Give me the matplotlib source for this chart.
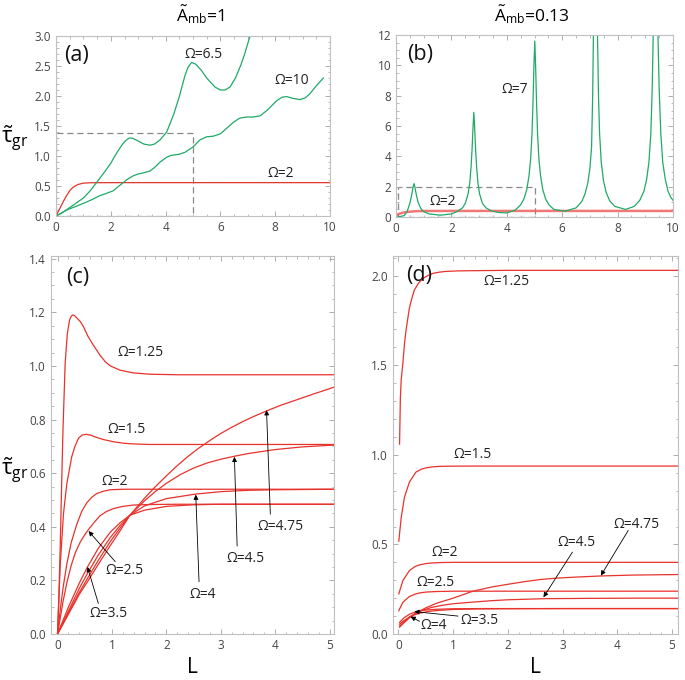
import matplotlib
matplotlib.use("Agg")
import matplotlib.pyplot as plt
from matplotlib.ticker import MultipleLocator, AutoMinorLocator, FormatStrFormatter
from matplotlib.patches import Rectangle

plt.rcParams['font.family'] = ['Open Sans', 'DejaVu Sans']
plt.rcParams['mathtext.fontset'] = 'custom'
plt.rcParams['mathtext.rm'] = 'Open Sans'
plt.rcParams['mathtext.it'] = 'Open Sans'
plt.rcParams['mathtext.bf'] = 'Open Sans:bold'

RED = '#e8322b'
GREEN = '#1faa68'

# ---------------- panel (a): A_mb = 1 ----------------
a_L_om2 = [0, 0.1, 0.2, 0.3, 0.4, 0.5, 0.6, 0.7, 0.8, 1.0, 1.3, 2, 4, 6, 8, 10]
a_t_om2 = [0, 0.09, 0.18, 0.27, 0.35, 0.42, 0.47, 0.5, 0.525, 0.548, 0.555, 0.556, 0.556, 0.556, 0.556, 0.556]
a_L_om65 = [0, 0.25, 0.5, 0.75, 1.0, 1.25, 1.5, 1.75, 2.0, 2.2, 2.4, 2.55, 2.68, 2.8, 3.0, 3.2, 3.43,
            3.6, 3.8, 4.04, 4.3, 4.5, 4.7, 4.82, 4.95, 5.1, 5.3, 5.5, 5.8, 6.0, 6.17, 6.35, 6.55, 6.75,
            6.9, 7.08, 7.2]
a_t_om65 = [0, 0.06, 0.14, 0.22, 0.3, 0.42, 0.57, 0.72, 0.88, 1.04, 1.18, 1.26, 1.30, 1.295, 1.25, 1.2,
            1.18, 1.2, 1.27, 1.40, 1.70, 1.99, 2.33, 2.48, 2.56, 2.53, 2.43, 2.3, 2.15, 2.1, 2.10, 2.15,
            2.3, 2.52, 2.72, 3.0, 3.2]
a_L_om10 = [0, 0.39, 1.0, 1.3, 1.6, 1.8, 2.09, 2.3, 2.6, 2.82, 3.0, 3.2, 3.43, 3.6, 3.8, 4.04, 4.2,
            4.5, 4.7, 5.0, 5.26, 5.5, 5.74, 6.0, 6.2, 6.47, 6.7, 6.96, 7.2, 7.45, 7.7, 8.05, 8.25,
            8.42, 8.65, 8.9, 9.1, 9.27, 9.5, 9.76]
a_t_om10 = [0, 0.1, 0.21, 0.27, 0.34, 0.37, 0.42, 0.5, 0.61, 0.67, 0.7, 0.72, 0.75, 0.81, 0.9, 0.98, 1.01,
            1.03, 1.06, 1.15, 1.27, 1.32, 1.33, 1.37, 1.45, 1.56, 1.63, 1.65, 1.65, 1.67, 1.76, 1.92, 1.98,
            1.99, 1.96, 1.94, 1.97, 2.04, 2.17, 2.30]

# ---------------- panel (b): A_mb = 0.13 ----------------
b_L_om2 = [0.03, 0.1, 0.2, 0.35, 0.5, 0.7, 1.0, 2, 4, 6, 8, 10]
b_t_om2 = [0.12, 0.2, 0.26, 0.32, 0.35, 0.38, 0.395, 0.4, 0.4, 0.4, 0.4, 0.4]
b_L_om7 = [0.05, 0.2, 0.3, 0.4, 0.5, 0.57, 0.62, 0.65, 0.68, 0.73, 0.8, 0.9, 1.0, 1.2, 1.6, 2.0,
           2.2, 2.4, 2.5, 2.6, 2.66, 2.71, 2.75, 2.78, 2.81, 2.84, 2.87, 2.91, 2.96, 3.02, 3.12, 3.25,
           3.45, 3.7, 4.0, 4.3, 4.5, 4.62, 4.72, 4.8, 4.86, 4.91, 4.95, 4.98, 5.01, 5.04, 5.07, 5.11,
           5.16, 5.22, 5.3, 5.4, 5.52, 5.7, 6.1, 6.5, 6.7, 6.82, 6.92, 7.0, 7.06, 7.1, 7.13, 7.2,
           7.27, 7.31, 7.35, 7.41, 7.49, 7.59, 7.72, 7.9, 8.29, 8.6, 8.8, 8.95, 9.05, 9.13, 9.2, 9.25,
           9.29, 9.37, 9.45, 9.5, 9.56, 9.63, 9.72, 9.82, 9.92, 10.0]
b_t_om7 = [0.0, 0.05, 0.1, 0.35, 0.9, 1.5, 2.0, 2.2, 2.0, 1.5, 0.95, 0.55, 0.35, 0.2, 0.12, 0.2,
           0.35, 0.6, 0.9, 1.5, 2.2, 3.3, 4.6, 5.9, 6.9, 5.9, 4.6, 3.3, 2.2, 1.5, 0.9, 0.6,
           0.4, 0.3, 0.27, 0.45, 0.8, 1.2, 1.8, 2.7, 3.8, 5.5, 7.8, 10.0, 11.6, 10.0, 7.8, 5.5,
           3.8, 2.7, 1.8, 1.2, 0.8, 0.5, 0.38, 0.6, 1.0, 1.5, 2.2, 3.2, 4.6, 8.0, 12.5, 20.0,
           12.5, 8.0, 5.5, 3.6, 2.4, 1.6, 1.05, 0.7, 0.5, 0.7, 1.1, 1.7, 2.5, 3.6, 5.5, 8.5,
           12.5, 20.0, 12.5, 8.5, 5.5, 3.6, 2.5, 1.7, 1.3, 1.1]

# ---------------- panel (c): A_mb = 1, zoom ----------------
c_L_125 = [0, 0.025, 0.05, 0.07, 0.1, 0.14, 0.18, 0.22, 0.25, 0.28, 0.31, 0.35, 0.42, 0.48, 0.56, 0.66,
           0.78, 0.88, 0.97, 1.15, 1.39, 1.7, 2.2, 3.0, 4.0, 5.1]
c_t_125 = [0, 0.14, 0.33, 0.51, 0.76, 1.01, 1.12, 1.17, 1.185, 1.19, 1.188, 1.18, 1.165, 1.145, 1.11, 1.077,
           1.04, 1.015, 1.0, 0.984, 0.974, 0.969, 0.967, 0.967, 0.967, 0.967]
c_L_15 = [0, 0.05, 0.11, 0.17, 0.26, 0.32, 0.385, 0.45, 0.53, 0.62, 0.72, 0.85, 1.03, 1.2, 1.39, 1.7,
          2.2, 3, 4, 5.1]
c_t_15 = [0, 0.26, 0.45, 0.56, 0.66, 0.70, 0.73, 0.742, 0.745, 0.741, 0.733, 0.725, 0.717, 0.712, 0.709,
          0.707, 0.707, 0.707, 0.707, 0.707]
c_L_2 = [0, 0.05, 0.1, 0.17, 0.25, 0.355, 0.45, 0.54, 0.63, 0.72, 0.85, 0.97, 1.2, 1.5, 2, 3, 4, 5.1]
c_t_2 = [0, 0.09, 0.17, 0.26, 0.34, 0.41, 0.46, 0.49, 0.51, 0.524, 0.533, 0.538, 0.54, 0.54, 0.54, 0.54,
         0.54, 0.54]
c_L_25 = [0, 0.1, 0.17, 0.25, 0.33, 0.42, 0.5, 0.57, 0.68, 0.78, 0.9, 1.03, 1.2, 1.39, 1.7, 2.2, 3, 4, 5.1]
c_t_25 = [0, 0.12, 0.19, 0.255, 0.305, 0.344, 0.37, 0.39, 0.418, 0.441, 0.457, 0.468, 0.476, 0.481,
          0.483, 0.484, 0.484, 0.484, 0.484]
c_L_35 = [0, 0.2, 0.4, 0.55, 0.75, 0.97, 1.15, 1.33, 1.6, 2.0, 2.5, 3, 4, 5.1]
c_t_35 = [0, 0.1, 0.19, 0.25, 0.32, 0.38, 0.415, 0.443, 0.462, 0.476, 0.482, 0.484, 0.484, 0.484]
c_L_4 = [0, 0.2, 0.4, 0.55, 0.75, 0.97, 1.15, 1.33, 1.6, 2.0, 2.54, 3.0, 3.5, 4, 5.1]
c_t_4 = [0, 0.085, 0.17, 0.226, 0.295, 0.36, 0.405, 0.443, 0.478, 0.505, 0.522, 0.531, 0.536, 0.538, 0.54]
c_L_45 = [0, 0.2, 0.4, 0.55, 0.75, 0.97, 1.15, 1.33, 1.6, 1.8, 2.0, 2.25, 2.5, 2.75, 3.0, 3.25, 3.5,
          4.0, 4.5, 5.1]
c_t_45 = [0, 0.078, 0.155, 0.207, 0.275, 0.345, 0.395, 0.443, 0.497, 0.532, 0.562, 0.594, 0.619, 0.638,
          0.652, 0.663, 0.673, 0.688, 0.698, 0.705]
c_L_475 = [0, 0.2, 0.4, 0.55, 0.75, 0.97, 1.15, 1.33, 1.6, 1.8, 2.0, 2.2, 2.4, 2.6, 2.8, 3.0, 3.2, 3.4,
           3.6, 3.84, 4.1, 4.4, 4.7, 5.1]
c_t_475 = [0, 0.074, 0.148, 0.195, 0.26, 0.33, 0.385, 0.443, 0.507, 0.55, 0.59, 0.628, 0.663, 0.694,
           0.722, 0.748, 0.771, 0.792, 0.811, 0.832, 0.853, 0.874, 0.895, 0.922]

# ---------------- panel (d): A_mb = 0.13, zoom ----------------
d_L_125 = [0.02, 0.035, 0.05, 0.08, 0.11, 0.14, 0.2, 0.25, 0.29, 0.37, 0.45, 0.55, 0.63, 0.75, 0.87,
           1.1, 1.36, 2, 3, 4, 5.11]
d_t_125 = [1.06, 1.32, 1.42, 1.51, 1.62, 1.70, 1.82, 1.88, 1.92, 1.96, 1.985, 2.003, 2.013, 2.02, 2.024,
           2.027, 2.028, 2.03, 2.03, 2.03, 2.03]
d_L_15 = [0.006, 0.05, 0.11, 0.2, 0.32, 0.42, 0.51, 0.63, 0.75, 1.0, 1.5, 2, 3, 4, 5.11]
d_t_15 = [0.518, 0.65, 0.764, 0.848, 0.904, 0.92, 0.928, 0.933, 0.936, 0.937, 0.9375, 0.9375, 0.9375,
          0.9375, 0.9375]
d_L_2 = [0.006, 0.08, 0.2, 0.3, 0.385, 0.5, 0.63, 0.8, 1.0, 2, 3, 4, 5.11]
d_t_2 = [0.224, 0.298, 0.354, 0.376, 0.386, 0.393, 0.397, 0.399, 0.4, 0.4, 0.4, 0.4, 0.4]
d_L_25 = [0.006, 0.08, 0.2, 0.3, 0.385, 0.5, 0.69, 1.0, 2, 3, 4, 5.11]
d_t_25 = [0.13, 0.177, 0.209, 0.222, 0.229, 0.234, 0.237, 0.239, 0.239, 0.239, 0.239, 0.239]
d_L_35 = [0.02, 0.1, 0.2, 0.3, 0.4, 0.55, 0.7, 1.0, 1.5, 2, 3, 4, 5.11]
d_t_35 = [0.065, 0.09, 0.11, 0.122, 0.13, 0.135, 0.138, 0.141, 0.142, 0.142, 0.142, 0.142, 0.142]
d_L_4 = [0.02, 0.1, 0.22, 0.3, 0.4, 0.55, 0.7, 1.0, 1.5, 2, 3, 4, 5.11]
d_t_4 = [0.055, 0.075, 0.097, 0.108, 0.117, 0.126, 0.131, 0.137, 0.14, 0.141, 0.142, 0.142, 0.142]
d_L_45 = [0.02, 0.1, 0.2, 0.3, 0.45, 0.6, 0.8, 1.0, 1.36, 1.7, 2.0, 2.65, 3.5, 4.3, 5.11]
d_t_45 = [0.045, 0.068, 0.095, 0.113, 0.133, 0.148, 0.16, 0.169, 0.178, 0.186, 0.191, 0.197, 0.199,
          0.2, 0.2]
d_L_475 = [0.02, 0.1, 0.2, 0.3, 0.4, 0.5, 0.7, 1.0, 1.36, 1.7, 1.97, 2.3, 2.59, 2.9, 3.2, 3.7, 4.3, 5.11]
d_t_475 = [0.038, 0.062, 0.09, 0.112, 0.13, 0.146, 0.172, 0.2, 0.239, 0.262, 0.276, 0.292, 0.304, 0.312,
           0.317, 0.324, 0.329, 0.332]

W, H = 685, 680
fig = plt.figure(figsize=(W / 100, H / 100), dpi=100)


def box(l, r, t, b):
    return [l / W, 1 - b / H, (r - l) / W, (b - t) / H]


def style(ax):
    for s in ax.spines.values():
        s.set_color('#c0c0c0')
        s.set_linewidth(0.8)
    ax.tick_params(which='both', direction='in', top=True, right=True, color='#a0a0a0',
                   labelcolor='#444444', labelsize=8.5)
    ax.tick_params(which='major', length=3.5, width=0.6)
    ax.tick_params(which='minor', length=1.8, width=0.5)


axA = fig.add_axes(box(56, 330, 36, 216))
axB = fig.add_axes(box(396, 673, 35, 217))
axC = fig.add_axes(box(51, 334, 256, 634))
axD = fig.add_axes(box(393, 678, 256, 634))

LBL = dict(fontsize=10, color='#222222', ha='center', va='center')
PNL = dict(fontsize=15.5, ha='center', va='center', color='#111111')

# (a)
axA.plot(a_L_om2, a_t_om2, color=RED, lw=0.9)
axA.plot(a_L_om65, a_t_om65, color=GREEN, lw=0.9)
axA.plot(a_L_om10, a_t_om10, color=GREEN, lw=0.9)
axA.add_patch(Rectangle((0, 0), 5, 1.38, fill=False, ls=(0, (5, 3)), lw=0.9, ec='#888888'))
axA.set_xlim(0, 10)
axA.set_ylim(0, 3)
axA.xaxis.set_major_locator(MultipleLocator(2))
axA.xaxis.set_minor_locator(AutoMinorLocator(4))
axA.yaxis.set_major_locator(MultipleLocator(0.5))
axA.yaxis.set_minor_locator(AutoMinorLocator(5))
axA.yaxis.set_major_formatter(FormatStrFormatter('%.1f'))
axA.text(0.75, 2.68, '(a)', **PNL)
axA.text(5.4, 2.69, 'Ω=6.5', **LBL)
axA.text(8.6, 2.26, 'Ω=10', **LBL)
axA.text(8.2, 0.71, 'Ω=2', **LBL)
style(axA)

# (b)
axB.plot(b_L_om2, b_t_om2, color='#f06060', lw=1.8, alpha=0.85)
axB.plot(b_L_om7, b_t_om7, color=GREEN, lw=0.9)
axB.add_patch(Rectangle((0.08, 0), 4.93, 1.98, fill=False, ls=(0, (5, 3)), lw=0.9, ec='#888888'))
axB.set_xlim(0, 10)
axB.set_ylim(0, 12)
axB.xaxis.set_major_locator(MultipleLocator(2))
axB.xaxis.set_minor_locator(AutoMinorLocator(4))
axB.yaxis.set_major_locator(MultipleLocator(2))
axB.yaxis.set_minor_locator(AutoMinorLocator(4))
axB.text(0.87, 10.7, '(b)', **PNL)
axB.text(4.3, 8.4, 'Ω=7', **LBL)
axB.text(1.7, 1.0, 'Ω=2', **LBL)
style(axB)

ARR = dict(arrowstyle='-|>', lw=0.6, color='black', mutation_scale=7, shrinkA=0, shrinkB=0)

# (c)
for Ls, ts in [(c_L_125, c_t_125), (c_L_15, c_t_15), (c_L_2, c_t_2), (c_L_25, c_t_25),
               (c_L_35, c_t_35), (c_L_4, c_t_4), (c_L_45, c_t_45), (c_L_475, c_t_475)]:
    axC.plot(Ls, ts, color=RED, lw=0.9)
axC.set_xlim(-0.12, 5.08)
axC.set_ylim(0, 1.41)
axC.xaxis.set_major_locator(MultipleLocator(1))
axC.xaxis.set_minor_locator(AutoMinorLocator(5))
axC.yaxis.set_major_locator(MultipleLocator(0.2))
axC.yaxis.set_minor_locator(AutoMinorLocator(4))
axC.yaxis.set_major_formatter(FormatStrFormatter('%.1f'))
axC.text(0.37, 1.33, '(c)', **PNL)
axC.text(1.52, 1.05, 'Ω=1.25', **LBL)
axC.text(1.27, 0.763, 'Ω=1.5', **LBL)
axC.text(1.06, 0.57, 'Ω=2', **LBL)
axC.annotate('', xy=(0.57, 0.384), xytext=(1.06, 0.27), arrowprops=ARR)
axC.text(1.24, 0.236, 'Ω=2.5', **LBL)
axC.annotate('', xy=(0.55, 0.25), xytext=(0.75, 0.114), arrowprops=ARR)
axC.text(0.94, 0.075, 'Ω=3.5', **LBL)
axC.annotate('', xy=(2.54, 0.52), xytext=(2.6, 0.195), arrowprops=ARR)
axC.text(2.67, 0.148, 'Ω=4', **LBL)
axC.annotate('', xy=(3.25, 0.661), xytext=(3.3, 0.328), arrowprops=ARR)
axC.text(3.46, 0.282, 'Ω=4.5', **LBL)
axC.annotate('', xy=(3.84, 0.835), xytext=(3.91, 0.447), arrowprops=ARR)
axC.text(4.1, 0.402, 'Ω=4.75', **LBL)
axC.set_xlabel('L', fontsize=15, labelpad=4)
style(axC)

# (d)
for Ls, ts in [(d_L_125, d_t_125), (d_L_15, d_t_15), (d_L_2, d_t_2), (d_L_25, d_t_25),
               (d_L_35, d_t_35), (d_L_4, d_t_4), (d_L_45, d_t_45), (d_L_475, d_t_475)]:
    axD.plot(Ls, ts, color=RED, lw=0.9)
axD.set_xlim(-0.1, 5.11)
axD.set_ylim(0, 2.11)
axD.xaxis.set_major_locator(MultipleLocator(1))
axD.xaxis.set_minor_locator(AutoMinorLocator(5))
axD.yaxis.set_major_locator(MultipleLocator(0.5))
axD.yaxis.set_minor_locator(AutoMinorLocator(5))
axD.yaxis.set_major_formatter(FormatStrFormatter('%.1f'))
axD.text(0.37, 2.0, '(d)', **PNL)
axD.text(1.97, 1.97, 'Ω=1.25', **LBL)
axD.text(1.36, 1.0, 'Ω=1.5', **LBL)
axD.text(0.84, 0.457, 'Ω=2', **LBL)
axD.text(0.68, 0.285, 'Ω=2.5', **LBL)
axD.annotate('', xy=(0.29, 0.125), xytext=(1.09, 0.1), arrowprops=ARR)
axD.text(1.49, 0.078, 'Ω=3.5', **LBL)
axD.annotate('', xy=(0.22, 0.097), xytext=(0.385, 0.071), arrowprops=ARR)
axD.text(0.65, 0.047, 'Ω=4', **LBL)
axD.annotate('', xy=(2.65, 0.205), xytext=(3.18, 0.457), arrowprops=ARR)
axD.text(3.26, 0.513, 'Ω=4.5', **LBL)
axD.annotate('', xy=(3.7, 0.326), xytext=(4.2, 0.578), arrowprops=ARR)
axD.text(4.35, 0.611, 'Ω=4.75', **LBL)
axD.set_xlabel('L', fontsize=15, labelpad=4)
style(axD)

# titles and y-labels
fig.text(200 / W, 1 - 15 / H, r'$\tilde{\mathrm{A}}_{\mathrm{mb}}$=1', fontsize=12.5, ha='center', va='center')
fig.text(532 / W, 1 - 15 / H, r'$\tilde{\mathrm{A}}_{\mathrm{mb}}$=0.13', fontsize=12.5, ha='center', va='center')
fig.text(1 / W, 1 - 138 / H, r'$\tilde{\mathrm{\tau}}_{\mathrm{gr}}$', fontsize=16, ha='left', va='center')
fig.text(1 / W, 1 - 470 / H, r'$\tilde{\mathrm{\tau}}_{\mathrm{gr}}$', fontsize=16, ha='left', va='center')

fig.savefig('out.png', dpi=100)
